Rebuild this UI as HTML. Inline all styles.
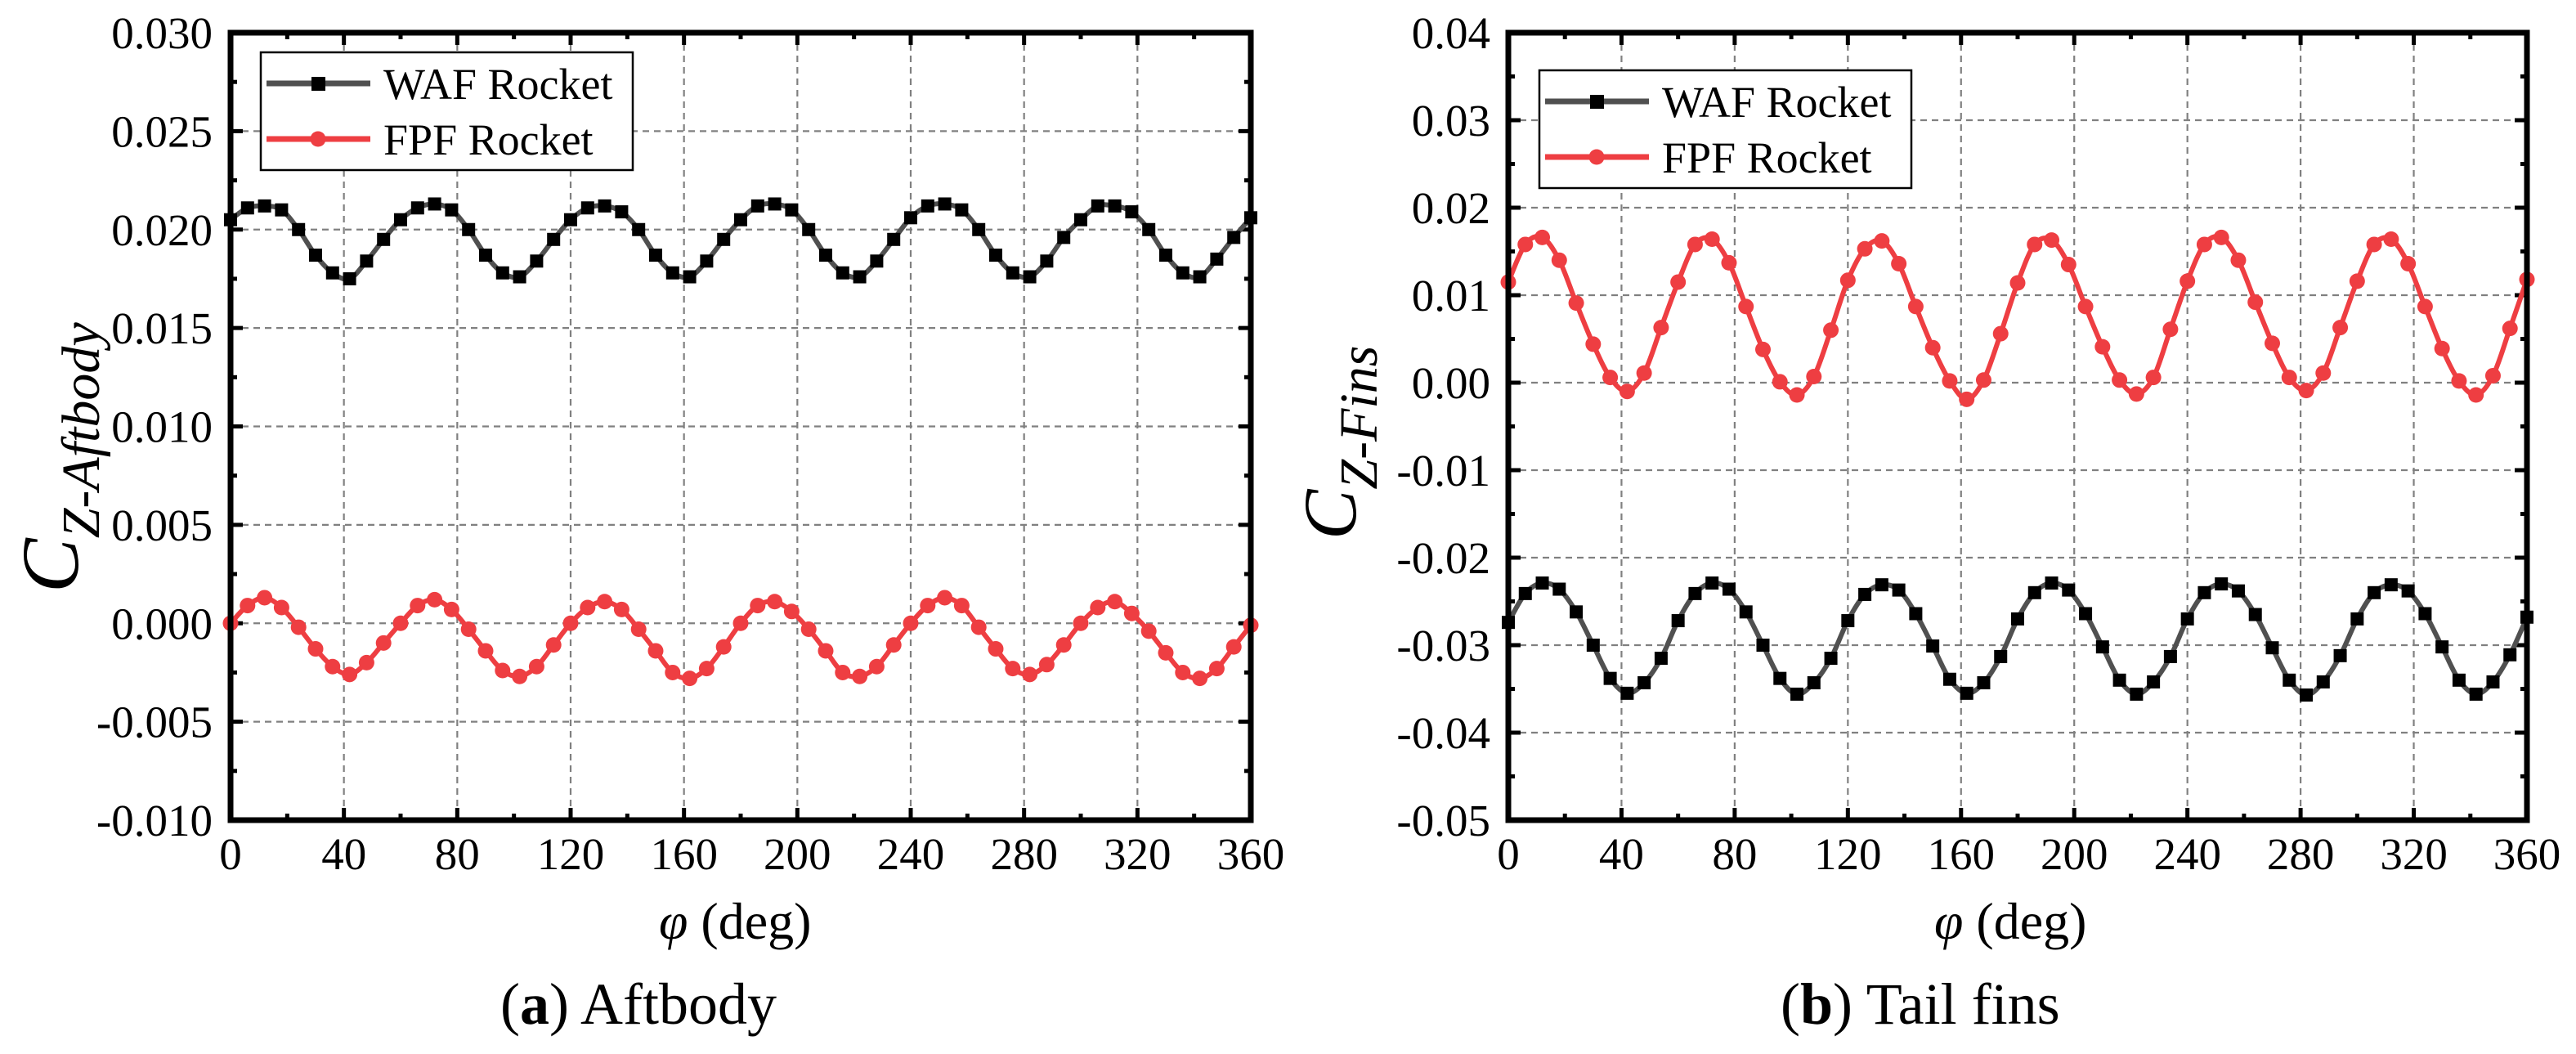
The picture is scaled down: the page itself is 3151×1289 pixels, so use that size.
<!DOCTYPE html>
<html><head><meta charset="utf-8"><style>
html,body{margin:0;padding:0;background:#fff;}
svg{display:block;}
text,tspan{font-family:"Liberation Serif","Times New Roman",Times,serif;}
</style></head><body>
<svg id="fig" width="3151" height="1289" viewBox="0 0 3151 1289" xmlns="http://www.w3.org/2000/svg"></svg>
<script>
const angles = [0,6,12,18,24,30,36,42,48,54,60,66,72,78,84,90,96,102,108,114,120,126,132,138,144,150,156,162,168,174,180,186,192,198,204,210,216,222,228,234,240,246,252,258,264,270,276,282,288,294,300,306,312,318,324,330,336,342,348,354,360];
const wafAftbody = [0.0205,0.0211,0.0212,0.0210,0.0200,0.0187,0.0178,0.0175,0.0184,0.0195,
 0.0205,0.0211,0.0213,0.0210,0.0200,0.0187,0.0178,0.0176,0.0184,0.0195,
 0.0205,0.0211,0.0212,0.0209,0.0200,0.0187,0.0178,0.0176,0.0184,0.0195,
 0.0205,0.0212,0.0213,0.0210,0.0200,0.0187,0.0178,0.0176,0.0184,0.0195,
 0.0206,0.0212,0.0213,0.0210,0.0200,0.0187,0.0178,0.0176,0.0184,0.0196,
 0.0205,0.0212,0.0212,0.0209,0.0200,0.0187,0.0178,0.0176,0.0185,0.0196,0.0206];
const fpfAftbody = [0.0000,0.0009,0.0013,0.0008,-0.0002,-0.0013,-0.0022,-0.0026,-0.0020,-0.0010,
 0.0000,0.0009,0.0012,0.0007,-0.0003,-0.0014,-0.0024,-0.0027,-0.0022,-0.0011,
 0.0000,0.0008,0.0011,0.0007,-0.0003,-0.0014,-0.0025,-0.0028,-0.0023,-0.0012,
 0.0000,0.0009,0.0011,0.0006,-0.0003,-0.0014,-0.0025,-0.0027,-0.0022,-0.0011,
 0.0000,0.0009,0.0013,0.0009,-0.0002,-0.0013,-0.0023,-0.0026,-0.0021,-0.0011,
 0.0000,0.0008,0.0011,0.0005,-0.0004,-0.0015,-0.0025,-0.0028,-0.0023,-0.0012,-0.0001];
const wafFins = [-0.0274,-0.0241,-0.0229,-0.0236,-0.0262,-0.0300,-0.0338,-0.0355,-0.0343,-0.0315,
 -0.0272,-0.0241,-0.0229,-0.0236,-0.0262,-0.0300,-0.0338,-0.0356,-0.0343,-0.0315,
 -0.0272,-0.0242,-0.0231,-0.0237,-0.0264,-0.0301,-0.0339,-0.0355,-0.0343,-0.0313,
 -0.0270,-0.0240,-0.0229,-0.0237,-0.0264,-0.0302,-0.0340,-0.0356,-0.0342,-0.0313,
 -0.0270,-0.0240,-0.0230,-0.0238,-0.0265,-0.0303,-0.0340,-0.0357,-0.0342,-0.0312,
 -0.0270,-0.0240,-0.0231,-0.0238,-0.0264,-0.0302,-0.0340,-0.0356,-0.0342,-0.0311,-0.0268];
const fpfFins = [0.0115,0.0158,0.0166,0.0140,0.0091,0.0044,0.0006,-0.0010,0.0011,0.0063,
 0.0115,0.0158,0.0164,0.0137,0.0087,0.0038,0.0001,-0.0014,0.0007,0.0060,
 0.0117,0.0153,0.0162,0.0136,0.0087,0.0040,0.0002,-0.0019,0.0003,0.0056,
 0.0114,0.0158,0.0163,0.0135,0.0087,0.0041,0.0003,-0.0013,0.0006,0.0061,
 0.0116,0.0158,0.0166,0.0140,0.0092,0.0045,0.0006,-0.0009,0.0011,0.0063,
 0.0116,0.0158,0.0164,0.0136,0.0087,0.0039,0.0002,-0.0014,0.0008,0.0062,0.0118];
const xTicks = [0,40,80,120,160,200,240,280,320,360];
const yTicksA = [-0.010,-0.005,0.000,0.005,0.010,0.015,0.020,0.025,0.030];
const yTicksB = [-0.05,-0.04,-0.03,-0.02,-0.01,0.00,0.01,0.02,0.03,0.04];

const NS = "http://www.w3.org/2000/svg";
const svg = document.getElementById('fig');
function mk(tag, attrs, parent){ const e=document.createElementNS(NS,tag); for(const k in attrs) e.setAttribute(k,attrs[k]); (parent||svg).appendChild(e); return e; }

function smoothPath(pts){
  let d = `M${pts[0][0]},${pts[0][1]}`;
  for(let i=0;i<pts.length-1;i++){
    const p0=pts[i-1]||pts[i], p1=pts[i], p2=pts[i+1], p3=pts[i+2]||p2;
    const c1=[p1[0]+(p2[0]-p0[0])/6, p1[1]+(p2[1]-p0[1])/6];
    const c2=[p2[0]-(p3[0]-p1[0])/6, p2[1]-(p3[1]-p1[1])/6];
    d += ` C${c1[0]},${c1[1]} ${c2[0]},${c2[1]} ${p2[0]},${p2[1]}`;
  }
  return d;
}

function panel(cfg){
  const L=cfg.left, R=cfg.right, T=40, B=1003;
  const xs = v => L + (v-0)/360*(R-L);
  const ys = v => B - (v-cfg.ymin)/(cfg.ymax-cfg.ymin)*(B-T);
  const g = mk('g',{});
  
  
  const grid = mk('g',{stroke:'#808080','stroke-width':2.2,'stroke-dasharray':'8,6'},g);
  
  
  xTicks.forEach(v=>{ if(v>0&&v<360) mk('line',{x1:xs(v),x2:xs(v),y1:T,y2:B},grid); });
  cfg.yTicks.forEach(v=>{ const y=ys(v); if(y>T+2&&y<B-2) mk('line',{x1:L,x2:R,y1:y,y2:y},grid); });
  const tk = mk('g',{stroke:'#000','stroke-width':5},g);
  
  
  xTicks.forEach((v,i)=>{
    const x=xs(v);
    mk('line',{x1:x,x2:x,y1:B,y2:B-15},tk); mk('line',{x1:x,x2:x,y1:T,y2:T+15},tk);
    if(i<xTicks.length-1){ const xm=xs(v+20); mk('line',{x1:xm,x2:xm,y1:B,y2:B-8},tk); mk('line',{x1:xm,x2:xm,y1:T,y2:T+8},tk); }
  });
  const step = cfg.yTicks[1]-cfg.yTicks[0];
  cfg.yTicks.forEach((v,i)=>{
    const y=ys(v);
    mk('line',{x1:L,x2:L+15,y1:y,y2:y},tk); mk('line',{x1:R,x2:R-15,y1:y,y2:y},tk);
    if(i<cfg.yTicks.length-1){ const ym=ys(v+step/2); mk('line',{x1:L,x2:L+8,y1:ym,y2:ym},tk); mk('line',{x1:R,x2:R-8,y1:ym,y2:ym},tk); }
  });
  const series=[{vals:cfg.waf,color:'#505050',mark:'sq',name:'waf-rocket-series'},{vals:cfg.fpf,color:'#ee3e42',mark:'ci',name:'fpf-rocket-series'}];
  series.forEach(s=>{
    const sg=mk('g',{},g);
    
    
    const pts=angles.map((a,i)=>[xs(a),ys(s.vals[i])]);
    mk('path',{d:smoothPath(pts),fill:'none',stroke:s.color,'stroke-width':6},sg);
    pts.forEach(p=>{
      let m;
      if(s.mark==='sq') m=mk('rect',{x:p[0]-8,y:p[1]-8,width:16,height:16,fill:'#000'},sg);
      else m=mk('circle',{cx:p[0],cy:p[1],r:9.5,fill:'#ee3e42'},sg);
      
      
    });
  });
  const fr=mk('rect',{x:L,y:T,width:R-L,height:B-T,fill:'none',stroke:'#000','stroke-width':7},g);
  
  
  const lg=mk('g',{},g);
  
  
  const lx=L+cfg.legDx, ly=cfg.legY;
  mk('rect',{x:lx,y:ly,width:455,height:144,fill:'#fff',stroke:'#000','stroke-width':2.5},lg);
  mk('line',{x1:lx+7,x2:lx+134,y1:ly+38,y2:ly+38,stroke:'#505050','stroke-width':7},lg);
  mk('rect',{x:lx+62,y:ly+30,width:17,height:17,fill:'#000'},lg);
  mk('line',{x1:lx+7,x2:lx+134,y1:ly+106,y2:ly+106,stroke:'#ee3e42','stroke-width':7},lg);
  mk('circle',{cx:lx+70,cy:ly+106,r:9.5,fill:'#ee3e42'},lg);
}

panel({name:'aftbody-chart',left:282,right:1530,ymin:-0.010,ymax:0.030,yTicks:yTicksA,dec:3,waf:wafAftbody,fpf:fpfAftbody,legDx:37,legY:64});
panel({name:'tail-fins-chart',left:1845,right:3091,ymin:-0.05,ymax:0.04,yTicks:yTicksB,dec:2,waf:wafFins,fpf:fpfFins,legDx:38,legY:86});
</script>
<svg style="position:absolute;left:0;top:0" width="3151" height="1289" xmlns="http://www.w3.org/2000/svg" font-family="'Liberation Serif', serif">
  <g font-size="55" text-anchor="middle" font-family="'Liberation Serif', serif">
    <text x="282" y="1063">0</text><text x="420.7" y="1063">40</text><text x="559.3" y="1063">80</text><text x="698" y="1063">120</text><text x="836.7" y="1063">160</text><text x="975.3" y="1063">200</text><text x="1114" y="1063">240</text><text x="1252.7" y="1063">280</text><text x="1391.3" y="1063">320</text><text x="1530" y="1063">360</text>
  </g>
  <g font-size="55" text-anchor="middle" font-family="'Liberation Serif', serif">
    <text x="1845" y="1063">0</text><text x="1983.4" y="1063">40</text><text x="2121.9" y="1063">80</text><text x="2260.3" y="1063">120</text><text x="2398.8" y="1063">160</text><text x="2537.2" y="1063">200</text><text x="2675.7" y="1063">240</text><text x="2814.1" y="1063">280</text><text x="2952.6" y="1063">320</text><text x="3091" y="1063">360</text>
  </g>
  <g font-size="55" text-anchor="end" font-family="'Liberation Serif', serif">
    <text x="260" y="1022">-0.010</text><text x="260" y="901.6">-0.005</text><text x="260" y="781.3">0.000</text><text x="260" y="660.9">0.005</text><text x="260" y="540.5">0.010</text><text x="260" y="420.1">0.015</text><text x="260" y="299.8">0.020</text><text x="260" y="179.4">0.025</text><text x="260" y="59">0.030</text>
  </g>
  <g font-size="55" text-anchor="end" font-family="'Liberation Serif', serif">
    <text x="1823" y="1022">-0.05</text><text x="1823" y="915">-0.04</text><text x="1823" y="808">-0.03</text><text x="1823" y="701">-0.02</text><text x="1823" y="594">-0.01</text><text x="1823" y="487">0.00</text><text x="1823" y="380">0.01</text><text x="1823" y="273">0.02</text><text x="1823" y="166">0.03</text><text x="1823" y="59">0.04</text>
  </g>
  <g font-size="54" font-family="'Liberation Serif', serif">
    <text x="469" y="121">WAF Rocket</text>
    <text x="469" y="189">FPF Rocket</text>
    <text x="2033" y="143">WAF Rocket</text>
    <text x="2033" y="211">FPF Rocket</text>
  </g>
  <text transform="translate(95,725) rotate(-90)" font-size="100" font-style="italic">C<tspan font-size="66" dy="26">Z-Aftbody</tspan></text>
  <text transform="translate(1658,660) rotate(-90)" font-size="92" font-style="italic">C<tspan font-size="66" dy="26">Z-Fins</tspan></text>
  <text x="806" y="1148" font-size="64"><tspan font-style="italic">φ</tspan>  (deg)</text>
  <text x="2366" y="1148" font-size="64"><tspan font-style="italic">φ</tspan> (deg)</text>
  <text x="612" y="1252" font-size="72">(<tspan font-weight="bold">a</tspan>) Aftbody</text>
  <text x="2178" y="1252" font-size="72">(<tspan font-weight="bold">b</tspan>) Tail fins</text>
</svg>
</body></html>
